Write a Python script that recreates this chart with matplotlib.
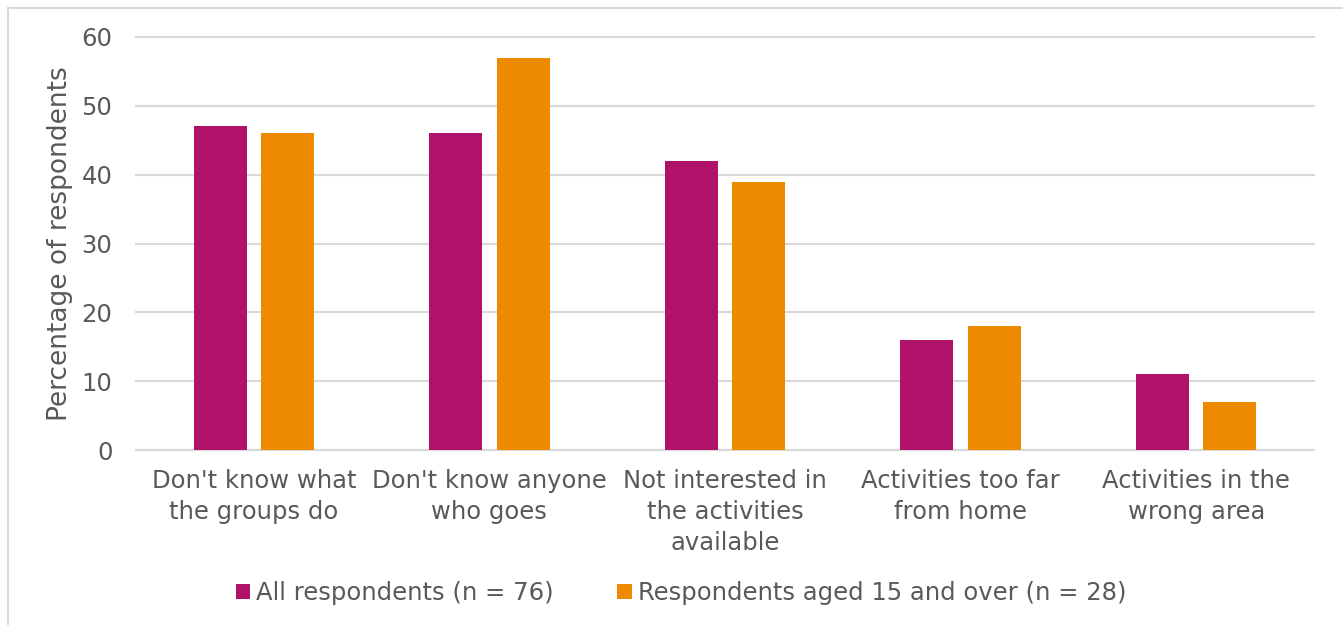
import numpy as np
import matplotlib
matplotlib.use("Agg")
from matplotlib import pyplot as plt
from matplotlib.patches import Rectangle

categories = ["Don't know what\nthe groups do", "Don't know anyone\nwho goes",
              "Not interested in\nthe activities\navailable", "Activities too far\nfrom home",
              "Activities in the\nwrong area"]
all_resp = [47, 46, 42, 16, 11]
aged_15 = [46, 57, 39, 18, 7]
series_names = ["All respondents (n = 76)", "Respondents aged 15 and over (n = 28)"]

text_col = '#595959'
plt.rcParams['font.family'] = ['DejaVu Sans']

fig = plt.figure(figsize=(13.43, 6.25), dpi=100)
ax = fig.add_axes([0.1013, 0.28, 0.8771, 0.6608])

x = np.arange(len(categories))
w = 0.225
ax.bar(x - 0.143, all_resp, w, color='#AF1268', label=series_names[0], zorder=3)
ax.bar(x + 0.143, aged_15, w, color='#EE8A00', label=series_names[1], zorder=3)

ax.set_xlim(-0.5, len(categories) - 0.5)
ax.set_ylim(0, 60)
ax.set_yticks(range(0, 61, 10))
ax.grid(axis='y', color='#D9D9D9', linewidth=1.5, zorder=0)
for gl in ax.get_ygridlines():
    gl.set_clip_on(False)
for s in ax.spines.values():
    s.set_visible(False)
ax.tick_params(axis='both', length=0, labelsize=17.5, colors=text_col)
ax.tick_params(axis='y', pad=17)
ax.tick_params(axis='x', pad=14)
ax.set_xticks(x)
ax.set_xticklabels(categories, linespacing=1.35)
ax.set_ylabel('Percentage of respondents', fontsize=19, color=text_col, labelpad=6)

leg = fig.legend(loc='center', bbox_to_anchor=(0.507, 0.051), ncol=2, frameon=False,
                 fontsize=17.5, handlelength=0.6, handleheight=0.6, handletextpad=0.25,
                 columnspacing=2.6)
for t in leg.get_texts():
    t.set_color(text_col)

# light frame around the chart area (only top/left visible in the crop)
fig.patches.append(Rectangle((8 / 1343, -0.1), 1.2, 1 - 8 / 625 + 0.1,
                             transform=fig.transFigure, fill=False,
                             edgecolor='#D9D9D9', linewidth=1.5))

fig.savefig('out.png', dpi=100)
